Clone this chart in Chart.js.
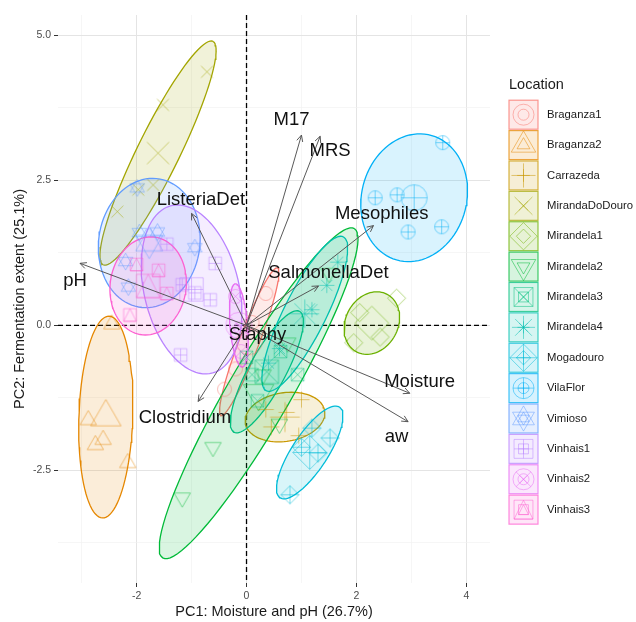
<!DOCTYPE html>
<html>
<head>
<meta charset="utf-8">
<script src="https://cdn.jsdelivr.net/npm/chart.js@4.4.0/dist/chart.umd.min.js"></script>
<style>
  html, body { margin: 0; padding: 0; background: #fff; }
  #wrap { width: 636px; height: 622px; position: relative; }
</style>
</head>
<body>
<div id="wrap"><canvas id="biplot"></canvas></div>
<script>
// PCA biplot - groups (Location) with ellipses, variables as arrows
const locations = ['Braganza1', 'Braganza2', 'Carrazeda', 'MirandaDoDouro', 'Mirandela1', 'Mirandela2', 'Mirandela3',
                   'Mirandela4', 'Mogadouro', 'VilaFlor', 'Vimioso', 'Vinhais1', 'Vinhais2', 'Vinhais3'];
const colours = ['#F8766D', '#E58700', '#C99800', '#A3A500', '#6BB100', '#00BA38', '#00BF7D',
                 '#00C0AF', '#00BCD8', '#00B0F6', '#619CFF', '#B983FF', '#E76BF3', '#FD61D1'];
const shapes = ['circle', 'triUp', 'plus', 'cross', 'diamond', 'triDown', 'squareX',
                'asterisk', 'diamondPlus', 'circlePlus', 'star', 'squarePlus', 'circleX', 'squareTri'];

// group means (ellipse centres)
const meanX = [0.05, -2.56, 0.70, -1.61, 2.28, 0.22, 0.37, 1.06, 1.15, 3.05, -1.77, -1.00, -0.14, -1.79];
const meanY = [-0.28, -1.58, -1.58, 2.97, 0.04, -1.17, -0.80, 0.20, -2.19, 2.20, 1.42, 0.62, 0.00, 0.68];
// ellipse semi axes and angle (deg)
const ellA = [1.37, 1.74, 0.73, 2.17, 0.57, 3.33, 1.20, 1.50, 0.95, 1.12, 1.12, 1.49, 0.72, 0.85];
const ellB = [0.18, 0.49, 0.42, 0.38, 0.47, 0.56, 0.33, 0.38, 0.32, 0.95, 0.92, 0.86, 0.16, 0.69];
const ellAngle = [68, 88, 8, 62.5, 55, 58.4, 60, 62, 55, 70, 80, 105, 95, 80];

// individual scores
const scoreX = [
  [0.35, 0.10, -0.20, -0.40],
  [-2.88, -2.61, -2.75, -2.16, -2.45],
  [1.00, 0.73, 0.45, 0.35, 0.95],
  [-0.72, -1.52, -1.70, -2.35, -1.97],
  [2.73, 2.43, 2.06, 1.95],
  [-0.61, -1.17, 0.30, 0.75, 1.50, 0.60],
  [0.10, 0.20, 0.62, 0.00, 0.93],
  [1.46, 1.66, 1.19, 0.60, 0.40],
  [0.79, 1.52, 1.19, 1.00, 1.30],
  [3.57, 2.34, 2.74, 2.94, 3.55],
  [-1.95, -0.94, -1.99, -2.15, -2.20, -1.62],
  [-1.17, -0.94, -0.66, -0.57, -1.20, -1.45],
  [-0.10, -0.20, -0.10],
  [-2.12, -1.60, -2.00, -1.45]
];
const scoreY = [
  [0.55, 0.05, -0.75, -1.10],
  [-1.63, -1.97, -2.06, -2.37, 0.02],
  [-1.28, -1.50, -1.75, -1.45, -1.90],
  [4.37, 3.80, 2.42, 1.96, 2.34],
  [0.47, -0.20, 0.22, -0.30],
  [-2.10, -2.97, -0.85, -0.30, 0.90, -1.70],
  [-0.85, -1.30, -0.45, -0.55, -0.85],
  [0.69, 1.09, 0.27, -0.40, -0.65],
  [-2.92, -1.94, -1.77, -2.10, -2.20],
  [3.15, 2.20, 2.25, 1.61, 1.70],
  [1.60, 1.34, 2.37, 0.66, 1.10, 1.61],
  [0.70, 0.56, 0.44, 1.07, -0.51, 1.40],
  [-0.45, 0.50, -0.05],
  [0.18, 0.95, 1.05, 0.55]
];

// variables (arrows)
const varNames = ['M17', 'MRS', 'Mesophiles', 'SalmonellaDet', 'Moisture', 'aw', 'pH', 'ListeriaDet', 'Clostridium', 'Staphy'];
const varX = [1.00, 1.34, 2.31, 1.31, 2.97, 2.94, -3.03, -1.00, -0.88, 0.06];
const varY = [3.28, 3.26, 1.72, 0.68, -1.17, -1.66, 1.07, 1.93, -1.31, -0.08];
const labelX = [0.82, 1.52, 2.46, 1.49, 3.15, 2.73, -3.12, -0.83, -1.12, 0.20];
const labelY = [3.55, 3.00, 1.93, 0.90, -0.97, -1.92, 0.76, 2.16, -1.60, -0.17];

const xTicks = [-2, 0, 2, 4];
const xMinor = [-3, -1, 1, 3];
const yTicks = [-2.5, 0, 2.5, 5];
const yMinor = [-3.75, -1.25, 1.25, 3.75];

const FONT = "'Liberation Sans', Arial, sans-serif";
Chart.defaults.font.family = FONT;

function rgba(hex, a) {
  const n = parseInt(hex.slice(1), 16);
  return 'rgba(' + (n >> 16) + ',' + ((n >> 8) & 255) + ',' + (n & 255) + ',' + a + ')';
}

// ggplot-like open shapes
function drawShape(c, s, r) {
  const sq = r * 0.9;
  const seg = (x1, y1, x2, y2) => { c.moveTo(x1, y1); c.lineTo(x2, y2); };
  const circle = rr => { c.moveTo(rr, 0); c.arc(0, 0, rr, 0, Math.PI * 2); };
  const square = h => c.rect(-h, -h, 2 * h, 2 * h);
  const plus = h => { seg(-h, 0, h, 0); seg(0, -h, 0, h); };
  const cross = h => { seg(-h, -h, h, h); seg(-h, h, h, -h); };
  const poly = pts => { c.moveTo(pts[0][0], pts[0][1]); pts.slice(1).forEach(p => c.lineTo(p[0], p[1])); c.closePath(); };
  const triangle = (R, dir) => poly([[0, -dir * R], [R * 0.866, dir * R * 0.5], [-R * 0.866, dir * R * 0.5]]);
  const diamond = d => poly([[0, -d], [d, 0], [0, d], [-d, 0]]);
  c.beginPath();
  switch (s) {
    case 'circle': circle(r); break;
    case 'triUp': triangle(r * 1.35, 1); break;
    case 'plus': plus(r * 1.15); break;
    case 'cross': cross(r * 0.85); break;
    case 'diamond': diamond(r * 1.3); break;
    case 'triDown': triangle(r * 1.35, -1); break;
    case 'squareX': square(sq); cross(sq); break;
    case 'asterisk': plus(r * 1.1); cross(r * 0.8); break;
    case 'diamondPlus': diamond(r * 1.3); plus(r * 1.3); break;
    case 'circlePlus': circle(r); plus(r); break;
    case 'star': triangle(r * 1.2, 1); triangle(r * 1.2, -1); break;
    case 'squarePlus': square(sq); plus(sq); break;
    case 'circleX': circle(r); cross(r * 0.707); break;
    case 'squareTri': square(sq); poly([[-sq, sq], [sq, sq], [0, -sq]]); break;
  }
  c.stroke();
}

function shapeImage(g, r) {
  const size = Math.ceil(r * 3 + 4);
  const cv = document.createElement('canvas');
  cv.width = cv.height = size;
  const c = cv.getContext('2d');
  c.translate(size / 2, size / 2);
  c.strokeStyle = rgba(colours[g], 0.5);
  c.lineWidth = 1;
  drawShape(c, shapes[g], r);
  return cv;
}

function ellipse(g) {
  const th = ellAngle[g] * Math.PI / 180;
  const pts = [];
  for (let k = 0; k <= 90; k++) {
    const t = k / 90 * Math.PI * 2;
    const u = ellA[g] * Math.cos(t), v = ellB[g] * Math.sin(t);
    pts.push({ x: meanX[g] + u * Math.cos(th) - v * Math.sin(th), y: meanY[g] + u * Math.sin(th) + v * Math.cos(th) });
  }
  return pts;
}

const datasets = [];
locations.forEach((loc, g) => {
  datasets.push({
    type: 'line', label: loc + ' ellipse', data: ellipse(g),
    borderColor: colours[g], borderWidth: 1.3, backgroundColor: rgba(colours[g], 0.15),
    fill: 'shape', pointRadius: 0, tension: 0, order: 100 - g
  });
  datasets.push({
    type: 'scatter', label: loc,
    data: scoreX[g].map((v, i) => ({ x: v, y: scoreY[g][i] })),
    pointStyle: shapeImage(g, 7), pointRadius: 7, order: 50 - g
  });
  datasets.push({
    type: 'scatter', label: loc + ' mean',
    data: [{ x: meanX[g], y: meanY[g] }],
    pointStyle: shapeImage(g, 13), pointRadius: 13, order: 50 - g
  });
});
varNames.forEach((n, i) => {
  datasets.push({
    type: 'line', label: n, data: [{ x: 0, y: 0 }, { x: varX[i], y: varY[i] }],
    borderColor: 'rgba(80,80,80,0.95)', borderWidth: 1, pointRadius: 0, fill: false, order: 0
  });
});

const overlay = {
  id: 'overlay',
  beforeDatasetsDraw(chart) {
    const { ctx, chartArea: a, scales: { x, y } } = chart;
    const x0 = x.getPixelForValue(0), y0 = y.getPixelForValue(0);
    ctx.save();
    ctx.strokeStyle = '#000';
    ctx.lineWidth = 1.3;
    ctx.setLineDash([5, 3]);
    ctx.beginPath();
    ctx.moveTo(x0, a.top); ctx.lineTo(x0, a.bottom);
    ctx.moveTo(a.left, y0); ctx.lineTo(a.right, y0);
    ctx.stroke();
    ctx.restore();
  },
  afterDatasetsDraw(chart) {
    const { ctx, scales: { x, y } } = chart;
    const ox = x.getPixelForValue(0), oy = y.getPixelForValue(0);
    ctx.save();
    ctx.strokeStyle = 'rgba(80,80,80,0.95)';
    ctx.lineWidth = 1;
    varNames.forEach((n, i) => {
      const px = x.getPixelForValue(varX[i]), py = y.getPixelForValue(varY[i]);
      const ang = Math.atan2(py - oy, px - ox), L = 7;
      ctx.beginPath();
      ctx.moveTo(px - L * Math.cos(ang - 0.45), py - L * Math.sin(ang - 0.45));
      ctx.lineTo(px, py);
      ctx.lineTo(px - L * Math.cos(ang + 0.45), py - L * Math.sin(ang + 0.45));
      ctx.stroke();
    });
    ctx.fillStyle = '#111';
    ctx.font = '18.5px ' + FONT;
    ctx.textAlign = 'center';
    ctx.textBaseline = 'middle';
    varNames.forEach((n, i) => {
      ctx.fillText(n, x.getPixelForValue(labelX[i]), y.getPixelForValue(labelY[i]));
    });
    ctx.restore();
  },
  afterDraw(chart) {
    const { ctx, chartArea: a } = chart;
    ctx.save();
    // axis titles
    ctx.fillStyle = '#1a1a1a';
    ctx.font = '14.5px ' + FONT;
    ctx.textAlign = 'center';
    ctx.textBaseline = 'middle';
    ctx.fillText('PC1: Moisture and pH (26.7%)', (a.left + a.right) / 2, 612);
    ctx.save();
    ctx.translate(20, (a.top + a.bottom) / 2);
    ctx.rotate(-Math.PI / 2);
    ctx.fillText('PC2: Fermentation extent (25.1%)', 0, 0);
    ctx.restore();
    // legend
    ctx.textAlign = 'left';
    ctx.font = '14.5px ' + FONT;
    ctx.fillText('Location', 509, 85);
    ctx.font = '11.3px ' + FONT;
    locations.forEach((loc, g) => {
      const cy = 114.7 + g * 30.38;
      ctx.fillStyle = rgba(colours[g], 0.16);
      ctx.fillRect(509, cy - 14.5, 29, 29);
      ctx.strokeStyle = rgba(colours[g], 0.75);
      ctx.lineWidth = 1.2;
      ctx.strokeRect(509, cy - 14.5, 29, 29);
      ctx.save();
      ctx.translate(523.5, cy);
      ctx.strokeStyle = rgba(colours[g], 0.5);
      ctx.lineWidth = 1;
      drawShape(ctx, shapes[g], 10.5);
      drawShape(ctx, shapes[g], 5.5);
      ctx.restore();
      ctx.fillStyle = '#1a1a1a';
      ctx.fillText(loc, 547, cy);
    });
    ctx.restore();
  }
};

const gridColor = major => c => (c.tick && major.includes(c.tick.value)) ? '#e4e4e4' : '#f0f0f0';

new Chart(document.getElementById('biplot'), {
  type: 'scatter',
  data: { datasets },
  plugins: [overlay],
  options: {
    responsive: true,
    maintainAspectRatio: false,
    animation: false,
    layout: { padding: { left: 0, top: 15, right: 146, bottom: 0 } },
    plugins: { legend: { display: false }, tooltip: { enabled: false } },
    scales: {
      x: {
        type: 'linear', min: -3.43, max: 4.43,
        afterBuildTicks: s => { s.ticks = xMinor.concat(xTicks).sort((p, q) => p - q).map(v => ({ value: v })); },
        afterFit: s => { s.height = 39; },
        ticks: {
          autoSkip: false, maxRotation: 0, padding: 3, color: '#4d4d4d', font: { size: 10.5 },
          callback: v => xTicks.includes(v) ? String(v) : ''
        },
        grid: {
          color: gridColor(xTicks), lineWidth: c => (c.tick && xTicks.includes(c.tick.value)) ? 1 : 0.6,
          drawTicks: true, tickLength: 4,
          tickColor: c => (c.tick && xTicks.includes(c.tick.value)) ? '#333' : 'rgba(0,0,0,0)'
        },
        border: { display: false }
      },
      y: {
        type: 'linear', min: -4.44, max: 5.35,
        afterBuildTicks: s => { s.ticks = yMinor.concat(yTicks).sort((p, q) => p - q).map(v => ({ value: v })); },
        afterFit: s => { s.width = 58; },
        ticks: {
          autoSkip: false, padding: 3, color: '#4d4d4d', font: { size: 10.5 },
          callback: v => yTicks.includes(v) ? v.toFixed(1) : ''
        },
        grid: {
          color: gridColor(yTicks), lineWidth: c => (c.tick && yTicks.includes(c.tick.value)) ? 1 : 0.6,
          drawTicks: true, tickLength: 4,
          tickColor: c => (c.tick && yTicks.includes(c.tick.value)) ? '#333' : 'rgba(0,0,0,0)'
        },
        border: { display: false }
      }
    }
  }
});
</script>
</body>
</html>
